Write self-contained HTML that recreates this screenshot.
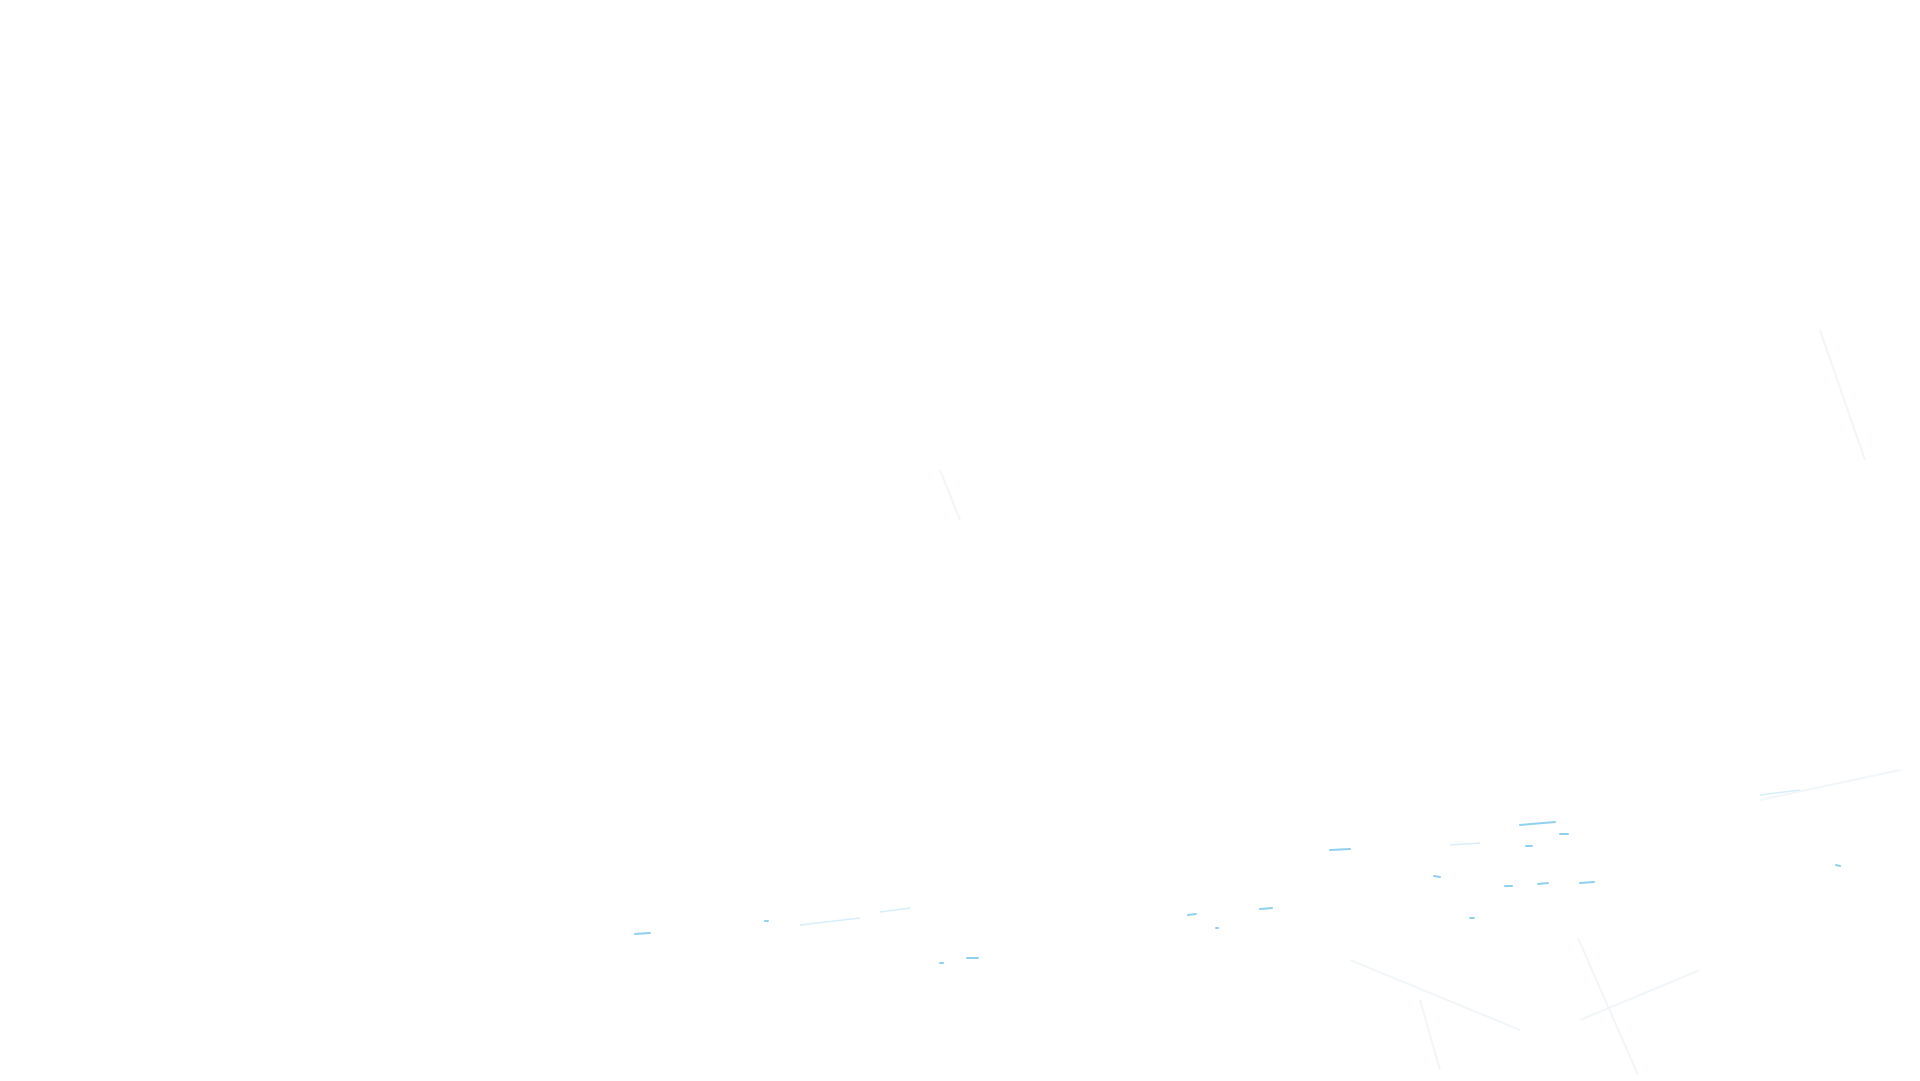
<!DOCTYPE html>
<html><head><meta charset="utf-8"><style>
html,body{margin:0;padding:0;background:#fff;width:1920px;height:1081px;overflow:hidden}
</style></head><body>
<svg width="1920" height="1081" xmlns="http://www.w3.org/2000/svg">
<g stroke="#f1f6f9" stroke-width="2" fill="none">
<line x1="1578" y1="938" x2="1638" y2="1075"/>
<line x1="1420" y1="1000" x2="1440" y2="1070"/>
<line x1="1580" y1="1020" x2="1700" y2="970"/>
<line x1="1350" y1="960" x2="1520" y2="1030"/>
<line x1="1820" y1="330" x2="1865" y2="460"/>
<line x1="1760" y1="800" x2="1900" y2="770"/>
<line x1="940" y1="470" x2="960" y2="520"/>
</g>
<g stroke="#8fd0ee" stroke-width="2" stroke-linecap="round">
<line x1="1330" y1="850" x2="1350" y2="849"/>
<line x1="1520" y1="825" x2="1555" y2="822"/>
<line x1="1434" y1="876" x2="1440" y2="877"/>
<line x1="1505" y1="886" x2="1512" y2="886"/>
<line x1="1538" y1="884" x2="1548" y2="883"/>
<line x1="1580" y1="883" x2="1594" y2="882"/>
<line x1="1188" y1="915" x2="1196" y2="914"/>
<line x1="1260" y1="909" x2="1272" y2="908"/>
<line x1="1216" y1="928" x2="1218" y2="928"/>
<line x1="765" y1="921" x2="768" y2="921"/>
<line x1="967" y1="958" x2="978" y2="958"/>
<line x1="940" y1="963" x2="943" y2="963"/>
<line x1="1836" y1="865" x2="1840" y2="866"/>
<line x1="1470" y1="918" x2="1474" y2="918"/>
<line x1="1526" y1="846" x2="1532" y2="846"/>
<line x1="1560" y1="834" x2="1568" y2="834"/>
<line x1="635" y1="934" x2="650" y2="933"/>
</g>
<g stroke="#d6eef8" stroke-width="1.5">
<line x1="1450" y1="845" x2="1480" y2="843"/>
<line x1="800" y1="925" x2="860" y2="918"/>
<line x1="880" y1="912" x2="910" y2="908"/>
<line x1="1760" y1="795" x2="1800" y2="790"/>
</g>
</svg>
</body></html>
